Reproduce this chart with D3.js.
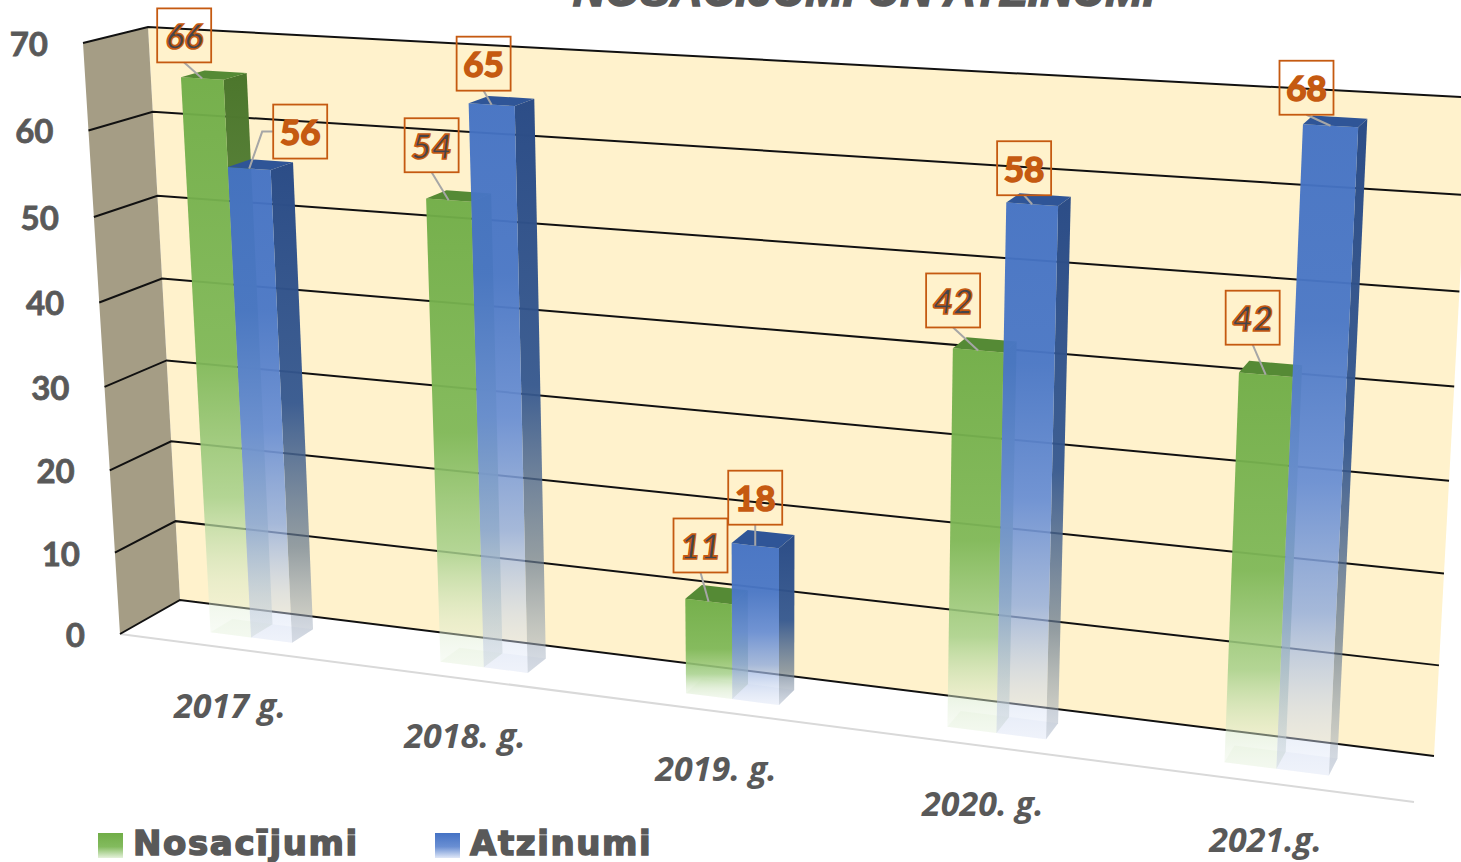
<!DOCTYPE html>
<html>
<head>
<meta charset="utf-8">
<title>Nosacījumi un atzinumi</title>
<script src="https://cdnjs.cloudflare.com/ajax/libs/d3/7.8.5/d3.min.js"></script>
<style>
  html, body { margin: 0; padding: 0; background: #fff; overflow: hidden; }
  svg { display: block; }
</style>
</head>
<body>
<div id="chart"></div>
<script>
const categories = ['2017 g.', '2018. g.', '2019. g.', '2020. g.', '2021.g.'];
const seriesNames = ['Nosacījumi', 'Atzinumi'];
const nosacijumi = [66, 54, 11, 42, 42];
const atzinumi = [56, 65, 18, 58, 68];
const valueTicks = [0, 10, 20, 30, 40, 50, 60, 70];
const chartTitle = 'NOSACĪJUMI UN ATZINUMI';

// label box offset from the top of its bar, same order as the values
const nudgeNosacijumi = [[-18, -43], [-17, -55], [-8, -56], [-25, -50], [-13, -57]];
const nudgeAtzinumi = [[51, -37], [-8, -41], [0, -48], [-8, -36], [-24, -38]];

const width = 1461, height = 862;

// corners of the 3d box as they land on the screen
const box = {
  backBottom: [[180, 600], [1434, 756]],
  backTop: [[148, 27], [1470, 97.5]],
  frontBottom: [[120, 634], [1414, 802]],
  frontTop: [[83, 43], [1449, 120]]
};

const lerp = (a, b, t) => [a[0] + (b[0] - a[0]) * t, a[1] + (b[1] - a[1]) * t];

// perspective squeezes both axes a little, the shifted domains keep the curve gentle
const shiftX = 2.76, shiftY = 785;
const scale_x = d3.scalePow().exponent(2).domain([shiftX, shiftX + 1]).range([0, 1]);
const scale_y = d3.scalePow().exponent(2).domain([shiftY, shiftY + 70]).range([0, 1]);
const scale_band = d3.scaleBand().domain(categories).range([0.065, 0.065 + 0.2 * 4.3625]).paddingInner(0.6375);
const scale_series = d3.scaleBand().domain(seriesNames).range([0, scale_band.bandwidth()]);

// u along the categories, v is the value, d goes from back wall (0) to front (1)
function project(u, v, d) {
  let fx = scale_x(u + shiftX), fy = scale_y(v + shiftY),
      back = lerp(lerp(box.backBottom[0], box.backBottom[1], fx), lerp(box.backTop[0], box.backTop[1], fx), fy),
      front = lerp(lerp(box.frontBottom[0], box.frontBottom[1], fx), lerp(box.frontTop[0], box.frontTop[1], fx), fy);
  return lerp(back, front, d);
}

const line = d3.line();
const poly = pts => line(pts) + 'Z';

const svg = d3.select('#chart').append('svg')
  .attr('width', width)
  .attr('height', height)
  .attr('font-family', 'Lato, sans-serif');

// gradients, one per series and face
const defs = svg.append('defs');
function addGradient(id, stops) {
  let g = defs.append('linearGradient').attr('id', id)
    .attr('x1', 0).attr('y1', 0).attr('x2', 0).attr('y2', 1);
  stops.forEach(s => g.append('stop')
    .attr('offset', s[0]).attr('stop-color', s[1]).attr('stop-opacity', s[2]));
}
addGradient('front0', [[0, '#70ad47', .96], [.5, '#7fb858', .95], [.75, '#a6d08a', .85], [.9, '#d5e8c7', .5], [1, '#eef6e8', .35]]);
addGradient('front1', [[0, '#4472c4', .96], [.3, '#4a77c6', .96], [.55, '#6a8fd3', .95], [.75, '#8faadc', .8], [.9, '#c5d3ee', .5], [1, '#e6ecf9', .35]]);
addGradient('side0', [[0, '#4c762c', 1], [.5, '#5f8a42', .95], [.8, '#8fa88a', .6], [1, '#c3ccd0', .5]]);
addGradient('side1', [[0, '#2c4d87', 1], [.5, '#34578f', .95], [.8, '#66798f', .7], [1, '#b7c0cd', .5]]);
addGradient('legend0', [[0, '#70ad47', 1], [.55, '#83bb5e', 1], [1, '#e4f1da', 1]]);
addGradient('legend1', [[0, '#4472c4', 1], [.55, '#6a8fd3', 1], [1, '#dfe7f7', 1]]);

// title runs off the top of the picture
svg.append('text')
  .attr('x', 864)
  .attr('y', 6)
  .attr('text-anchor', 'middle')
  .attr('font-family', '"Liberation Sans", sans-serif')
  .attr('font-size', 45)
  .attr('font-weight', 700)
  .attr('font-style', 'italic')
  .attr('fill', '#595959')
  .attr('stroke', '#595959')
  .attr('stroke-width', 1.5)
  .text(chartTitle);

// walls
svg.append('path')
  .attr('d', poly([project(0, 0, 0), project(1, 0, 0), project(1, 70, 0), project(0, 70, 0)]))
  .attr('fill', '#fff2cc');
svg.append('path')
  .attr('d', poly([project(0, 0, 0), project(0, 0, 1), project(0, 70, 1), project(0, 70, 0)]))
  .attr('fill', '#a59d85');

// floor edge
svg.append('path')
  .attr('d', line([project(0, 0, 1), project(1, 0, 1)]))
  .attr('fill', 'none')
  .attr('stroke', '#d9d9d9')
  .attr('stroke-width', 2);

// grid, front of the side wall to the far end of the back wall
svg.selectAll('.grid')
  .data(valueTicks)
  .enter()
  .append('path')
  .attr('class', 'grid')
  .attr('d', v => line([project(0, v, 1), project(0, v, 0), project(1, v, 0)]))
  .attr('fill', 'none')
  .attr('stroke', '#111')
  .attr('stroke-width', 2);

// value labels
svg.selectAll('.tick')
  .data(valueTicks)
  .enter()
  .append('text')
  .attr('class', 'tick')
  .attr('x', v => project(0, v, 1)[0] - 35)
  .attr('y', v => project(0, v, 1)[1] + 1)
  .attr('dy', '.36em')
  .attr('text-anchor', 'end')
  .attr('font-size', 33)
  .attr('font-weight', 700)
  .attr('fill', '#595959')
  .attr('stroke', '#595959')
  .attr('stroke-width', .8)
  .text(v => v);

// bars, green first so that blue sits in front of it
const depthFront = 0.68, depthBack = 0.30;
const seriesValues = [nosacijumi, atzinumi];
const seriesNudge = [nudgeNosacijumi, nudgeAtzinumi];
const floorTint = ['#a9d18e', '#8faadc'];
const topFill = ['#558a35', '#2f5597'];
const labelLayer = [];

categories.forEach((cat, c) => {
  seriesNames.forEach((name, s) => {
    let value = seriesValues[s][c],
        u0 = scale_band(cat) + scale_series(name),
        u1 = u0 + scale_series.bandwidth(),
        g = svg.append('g').attr('class', 'bar');

    // floor of the bar shows through
    g.append('path')
      .attr('d', poly([project(u0, 0, depthFront), project(u1, 0, depthFront), project(u1, 0, depthBack), project(u0, 0, depthBack)]))
      .attr('fill', floorTint[s])
      .attr('fill-opacity', .1);
    g.append('path')
      .attr('d', poly([project(u1, 0, depthFront), project(u1, value, depthFront), project(u1, value, depthBack), project(u1, 0, depthBack)]))
      .attr('fill', `url(#side${s})`);
    g.append('path')
      .attr('d', poly([project(u0, 0, depthFront), project(u1, 0, depthFront), project(u1, value, depthFront), project(u0, value, depthFront)]))
      .attr('fill', `url(#front${s})`);
    g.append('path')
      .attr('d', poly([project(u0, value, depthFront), project(u1, value, depthFront), project(u1, value, depthBack), project(u0, value, depthBack)]))
      .attr('fill', topFill[s]);

    let tip = project((u0 + u1) / 2, value, depthFront);
    labelLayer.push({value: value, s: s, tip: tip, nudge: seriesNudge[s][c]});
  });
});

// category labels
svg.selectAll('.cat')
  .data(categories)
  .enter()
  .append('text')
  .attr('class', 'cat')
  .attr('x', cat => project(scale_band(cat) + scale_band.bandwidth() / 2, 0, 1)[0] - 3)
  .attr('y', cat => project(scale_band(cat) + scale_band.bandwidth() / 2, 0, 1)[1] + 57)
  .attr('dy', '.36em')
  .attr('text-anchor', 'middle')
  .attr('font-family', '"Open Sans", sans-serif')
  .attr('font-size', 34)
  .attr('font-weight', 700)
  .attr('font-style', 'italic')
  .attr('fill', '#595959')
  .text(cat => cat);

// data labels with their leader lines
const boxSize = 54;
labelLayer.forEach(d => {
  let cx = d.tip[0] + d.nudge[0],
      cy = d.tip[1] + d.nudge[1],
      g = svg.append('g').attr('class', 'label'),
      leader = d.nudge[0] > boxSize / 2
        ? [[cx - boxSize / 2, cy], [cx - boxSize / 2 - 11, cy], d.tip]
        : [[cx, cy + boxSize / 2], d.tip];

  g.append('path')
    .attr('d', line(leader))
    .attr('fill', 'none')
    .attr('stroke', '#a6a6a6')
    .attr('stroke-width', 2);
  g.append('rect')
    .attr('x', cx - boxSize / 2)
    .attr('y', cy - boxSize / 2)
    .attr('width', boxSize)
    .attr('height', boxSize)
    .attr('fill', 'none')
    .attr('stroke', '#c55a11')
    .attr('stroke-width', 1.8);
  g.append('text')
    .attr('x', cx)
    .attr('y', cy)
    .attr('dy', '.38em')
    .attr('text-anchor', 'middle')
    .attr('font-size', 35)
    .attr('font-weight', 700)
    .attr('font-style', d.s === 0 ? 'italic' : 'normal')
    .attr('fill', d.s === 0 ? '#44444a' : '#c55a11')
    .attr('stroke', '#c55a11')
    .attr('stroke-width', 1.6)
    .text(d.value);
});

// legend
const scale_legend = d3.scaleOrdinal().domain(seriesNames).range([98, 435]);
const legend = svg.selectAll('.legend')
  .data(seriesNames)
  .enter()
  .append('g')
  .attr('class', 'legend')
  .attr('transform', name => `translate(${scale_legend(name)}, 833)`);
legend.append('rect')
  .attr('width', 25)
  .attr('height', 25)
  .attr('fill', (name, i) => `url(#legend${i})`);
legend.append('text')
  .attr('x', 35)
  .attr('y', 22)
  .attr('font-family', '"DejaVu Sans", sans-serif')
  .attr('font-size', 34)
  .attr('font-weight', 700)
  .attr('letter-spacing', 1.6)
  .attr('fill', '#595959')
  .attr('stroke', '#595959')
  .attr('stroke-width', 1.5)
  .text(name => name);
</script>
</body>
</html>
